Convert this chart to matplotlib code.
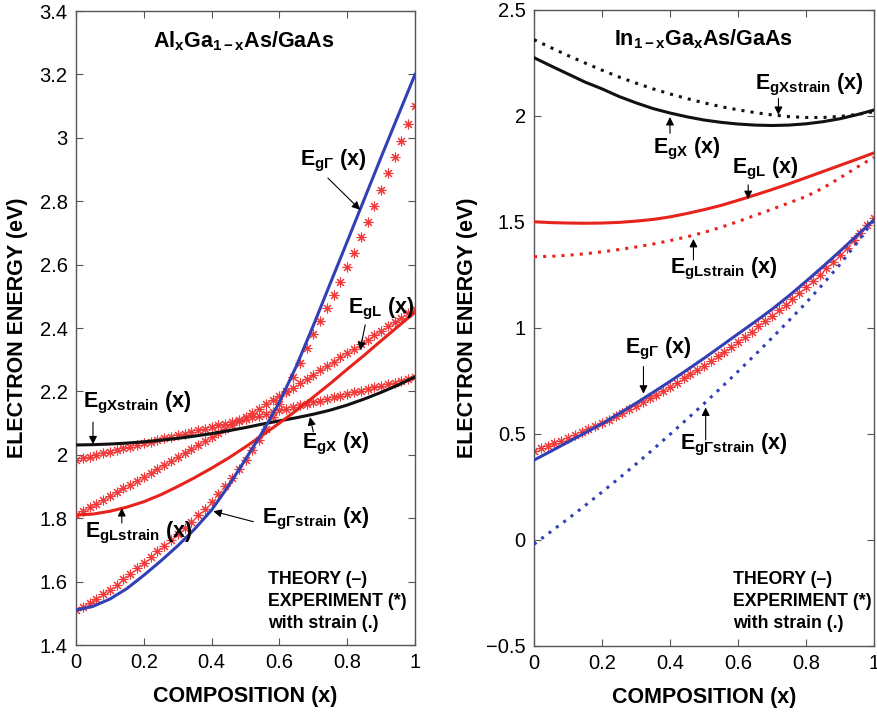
import numpy as np
import matplotlib
matplotlib.use("Agg")
import matplotlib.pyplot as plt
from matplotlib.ticker import FixedLocator

# -------------------
# DATA
# -------------------
x_th = np.linspace(0, 1, 21)    # theory curves, step 0.05
x_exp = np.linspace(0, 1, 51)   # experimental points, step 0.02

# Al(x)Ga(1-x)As / GaAs  -- theory
al_gamma_th = [1.510, 1.522, 1.545, 1.578, 1.620, 1.665, 1.713, 1.766, 1.826, 1.902, 1.986,
               2.072, 2.166, 2.280, 2.408, 2.541, 2.673, 2.806, 2.939, 3.070, 3.200]
al_l_th = [1.810, 1.813, 1.822, 1.835, 1.852, 1.874, 1.900, 1.928, 1.958, 1.990, 2.025,
           2.062, 2.100, 2.140, 2.182, 2.225, 2.270, 2.314, 2.360, 2.405, 2.450]
al_x_th = [2.031, 2.032, 2.034, 2.037, 2.041, 2.046, 2.052, 2.059, 2.067, 2.076, 2.086,
           2.097, 2.107, 2.117, 2.128, 2.141, 2.157, 2.176, 2.197, 2.220, 2.246]

# Al(x)Ga(1-x)As / GaAs  -- experiment
al_gamma_exp = [1.510, 1.521, 1.533, 1.546, 1.560, 1.575, 1.590, 1.607, 1.624, 1.642,
                1.660, 1.677, 1.695, 1.713, 1.731, 1.750, 1.770, 1.789, 1.809, 1.830,
                1.852, 1.876, 1.901, 1.928, 1.956, 1.985, 2.016, 2.048, 2.083, 2.120,
                2.160, 2.202, 2.245, 2.290, 2.336, 2.381, 2.423, 2.462, 2.504, 2.546,
                2.593, 2.636, 2.686, 2.735, 2.785, 2.835, 2.890, 2.940, 2.991, 3.043,
                3.100]
al_l_exp = [1.810, 1.822, 1.834, 1.846, 1.858, 1.870, 1.882, 1.894, 1.906, 1.918,
            1.930, 1.942, 1.955, 1.967, 1.980, 1.992, 2.005, 2.017, 2.030, 2.043,
            2.055, 2.068, 2.081, 2.094, 2.107, 2.120, 2.133, 2.146, 2.159, 2.172,
            2.186, 2.199, 2.212, 2.226, 2.239, 2.253, 2.266, 2.280, 2.293, 2.307,
            2.321, 2.335, 2.349, 2.363, 2.377, 2.391, 2.405, 2.419, 2.433, 2.447,
            2.461]
al_x_exp = [1.984, 1.989, 1.994, 2.000, 2.005, 2.010, 2.015, 2.020, 2.026, 2.031,
            2.036, 2.041, 2.046, 2.052, 2.057, 2.062, 2.067, 2.072, 2.078, 2.083,
            2.088, 2.093, 2.098, 2.104, 2.109, 2.114, 2.119, 2.124, 2.130, 2.135,
            2.140, 2.145, 2.150, 2.156, 2.161, 2.166, 2.171, 2.176, 2.182, 2.187,
            2.192, 2.197, 2.202, 2.208, 2.213, 2.218, 2.223, 2.228, 2.234, 2.239,
            2.244]

# In(1-x)Ga(x)As / GaAs  -- theory and with strain
in_gamma_th = [0.377, 0.419, 0.462, 0.505, 0.548, 0.596, 0.645, 0.696, 0.748, 0.802, 0.857,
               0.914, 0.972, 1.029, 1.088, 1.152, 1.220, 1.290, 1.362, 1.436, 1.510]
in_gamma_strain = [-0.020, 0.040, 0.100, 0.162, 0.226, 0.291, 0.358, 0.427, 0.498, 0.570, 0.643,
                   0.718, 0.795, 0.873, 0.953, 1.035, 1.118, 1.207, 1.300, 1.402, 1.510]
in_l_th = [1.501, 1.497, 1.495, 1.494, 1.495, 1.498, 1.504, 1.512, 1.524, 1.540, 1.558,
           1.578, 1.602, 1.627, 1.653, 1.680, 1.709, 1.738, 1.767, 1.796, 1.826]
in_l_strain = [1.336, 1.338, 1.343, 1.350, 1.359, 1.370, 1.382, 1.396, 1.412, 1.430, 1.451,
               1.475, 1.502, 1.531, 1.560, 1.590, 1.620, 1.660, 1.708, 1.758, 1.805]
in_x_th = [2.275, 2.236, 2.198, 2.160, 2.128, 2.092, 2.062, 2.035, 2.014, 1.996, 1.981,
           1.970, 1.962, 1.957, 1.955, 1.957, 1.963, 1.973, 1.987, 2.006, 2.028]
in_x_strain = [2.360, 2.322, 2.285, 2.250, 2.216, 2.184, 2.155, 2.128, 2.104, 2.082, 2.062,
               2.044, 2.029, 2.016, 2.005, 1.997, 1.993, 1.993, 1.998, 2.007, 2.020]

# In(1-x)Ga(x)As / GaAs  -- experiment
in_gamma_exp = [0.420, 0.432, 0.444, 0.457, 0.469, 0.482, 0.495, 0.509, 0.523, 0.537,
                0.552, 0.568, 0.584, 0.600, 0.616, 0.633, 0.650, 0.668, 0.686, 0.704,
                0.723, 0.742, 0.762, 0.782, 0.802, 0.823, 0.845, 0.867, 0.889, 0.912,
                0.935, 0.959, 0.983, 1.007, 1.032, 1.057, 1.083, 1.110, 1.137, 1.164,
                1.192, 1.221, 1.251, 1.282, 1.313, 1.345, 1.379, 1.413, 1.448, 1.484,
                1.520]

x_ticks = [0, 0.2, 0.4, 0.6, 0.8, 1]
x_ticklabels = ["0", "0.2", "0.4", "0.6", "0.8", "1"]
al_yticks = [1.4, 1.6, 1.8, 2.0, 2.2, 2.4, 2.6, 2.8, 3.0, 3.2, 3.4]
al_yticklabels = ["1.4", "1.6", "1.8", "2", "2.2", "2.4", "2.6", "2.8", "3", "3.2", "3.4"]
in_yticks = [-0.5, 0, 0.5, 1, 1.5, 2, 2.5]
in_yticklabels = ["\u22120.5", "0", "0.5", "1", "1.5", "2", "2.5"]

# -------------------
# STYLE
# -------------------
plt.rcParams["font.family"] = ["Liberation Sans", "DejaVu Sans"]
plt.rcParams["mathtext.fontset"] = "custom"
plt.rcParams["mathtext.rm"] = "Liberation Sans"
plt.rcParams["mathtext.bf"] = "Liberation Sans:bold"
plt.rcParams["mathtext.it"] = "Liberation Sans:italic"

BLUE = "#3340b5"
RED = "#e8221c"
STAR = "#f03a3a"
BLACK = "#111111"
LW = 2.2
DOT = (0, (1, 2))
STAR_MARKER = (8, 2, 0)
LABEL_FS = 15.5
LEGEND_TXT = "THEORY (\u2013)\nEXPERIMENT (*)\nwith strain (.)"


def style_axes(ax, yticks, yticklabels, ylim):
    ax.set_xlim(0, 1)
    ax.set_ylim(*ylim)
    ax.xaxis.set_major_locator(FixedLocator(x_ticks))
    ax.set_xticklabels(x_ticklabels)
    ax.yaxis.set_major_locator(FixedLocator(yticks))
    ax.set_yticklabels(yticklabels)
    ax.tick_params(direction="in", top=True, right=True, length=5, width=0.8,
                   color="#555555", labelsize=14.5, pad=6)
    for s in ax.spines.values():
        s.set_color("#555555")
        s.set_linewidth(1.0)
    ax.set_xlabel("COMPOSITION (x)", fontsize=15.5, fontweight="bold")
    ax.set_ylabel("ELECTRON ENERGY (eV)", fontsize=15.5, fontweight="bold")


def label(ax, name, tx, ty, start, end):
    ax.text(tx, ty, r"$\mathbf{E_{%s}}$ (x)" % name, fontsize=LABEL_FS, fontweight="bold",
            va="baseline", ha="left")
    ax.annotate("", xy=end, xytext=start,
                arrowprops=dict(arrowstyle="-|>", lw=0.8, color="k",
                                mutation_scale=12, shrinkA=0, shrinkB=0))


def stars(ax, y):
    ax.plot(x_exp, y, linestyle="none", marker=STAR_MARKER, markersize=7,
            markeredgewidth=0.8, color=STAR, zorder=2)


fig = plt.figure(figsize=(8.78, 7.12), dpi=100)
ax1 = fig.add_axes([0.0866, 0.0941, 0.3861, 0.8904])
ax2 = fig.add_axes([0.6082, 0.0927, 0.3872, 0.8933])

# ---- left: AlGaAs ----
stars(ax1, al_x_exp)
stars(ax1, al_l_exp)
stars(ax1, al_gamma_exp)
ax1.plot(x_th, al_x_th, color=BLACK, lw=LW, zorder=3)
ax1.plot(x_th, al_l_th, color=RED, lw=LW, zorder=3)
ax1.plot(x_th, al_gamma_th, color=BLUE, lw=LW, zorder=3)
style_axes(ax1, al_yticks, al_yticklabels, (1.4, 3.4))

ax1.text(0.494, 3.286, r"$\mathbf{Al_xGa_{1-x}As/GaAs}$", fontsize=15.5,
         ha="center", va="baseline")
label(ax1, r"g\Gamma", 0.661, 2.914, (0.743, 2.873), (0.838, 2.773))
label(ax1, "gL", 0.802, 2.447, (0.853, 2.41), (0.838, 2.33))
label(ax1, "gXstrain", 0.02, 2.151, (0.05, 2.103), (0.05, 2.033))
label(ax1, "gX", 0.666, 2.021, (0.70, 2.072), (0.69, 2.119))
label(ax1, "gLstrain", 0.027, 1.741, (0.135, 1.785), (0.135, 1.832))
label(ax1, r"g\Gamma strain", 0.549, 1.785, (0.523, 1.789), (0.405, 1.822))
ax1.text(0.567, 1.633, LEGEND_TXT, fontsize=12.8, fontweight="bold",
         ha="left", va="top", linespacing=1.37)

# ---- right: InGaAs ----
stars(ax2, in_gamma_exp)
ax2.plot(x_th, in_x_strain, color=BLACK, lw=LW, linestyle=DOT, zorder=3)
ax2.plot(x_th, in_x_th, color=BLACK, lw=LW, zorder=3)
ax2.plot(x_th, in_l_strain, color=RED, lw=LW, linestyle=DOT, zorder=3)
ax2.plot(x_th, in_l_th, color=RED, lw=LW, zorder=3)
ax2.plot(x_th, in_gamma_strain, color=BLUE, lw=LW, linestyle=DOT, zorder=3)
ax2.plot(x_th, in_gamma_th, color=BLUE, lw=LW, zorder=3)
style_axes(ax2, in_yticks, in_yticklabels, (-0.5, 2.5))

ax2.text(0.498, 2.335, r"$\mathbf{In_{1-x}Ga_xAs/GaAs}$", fontsize=15.5,
         ha="center", va="baseline")
label(ax2, "gXstrain", 0.65, 2.123, (0.719, 2.083), (0.719, 2.005))
label(ax2, "gX", 0.35, 1.825, (0.40, 1.918), (0.40, 1.995))
label(ax2, "gL", 0.582, 1.731, (0.63, 1.675), (0.63, 1.608))
label(ax2, "gLstrain", 0.40, 1.259, (0.469, 1.321), (0.469, 1.420))
label(ax2, r"g\Gamma", 0.268, 0.882, (0.322, 0.818), (0.322, 0.690))
label(ax2, r"g\Gamma strain", 0.429, 0.425, (0.505, 0.472), (0.505, 0.625))
ax2.text(0.586, -0.146, LEGEND_TXT, fontsize=12.8, fontweight="bold",
         ha="left", va="top", linespacing=1.37)

ax1.yaxis.set_label_coords(-0.142, 0.5)
ax2.yaxis.set_label_coords(-0.165, 0.5)
ax1.xaxis.set_label_coords(0.5, -0.0647)
ax2.xaxis.set_label_coords(0.5, -0.0647)

fig.savefig("out.png", dpi=100)
